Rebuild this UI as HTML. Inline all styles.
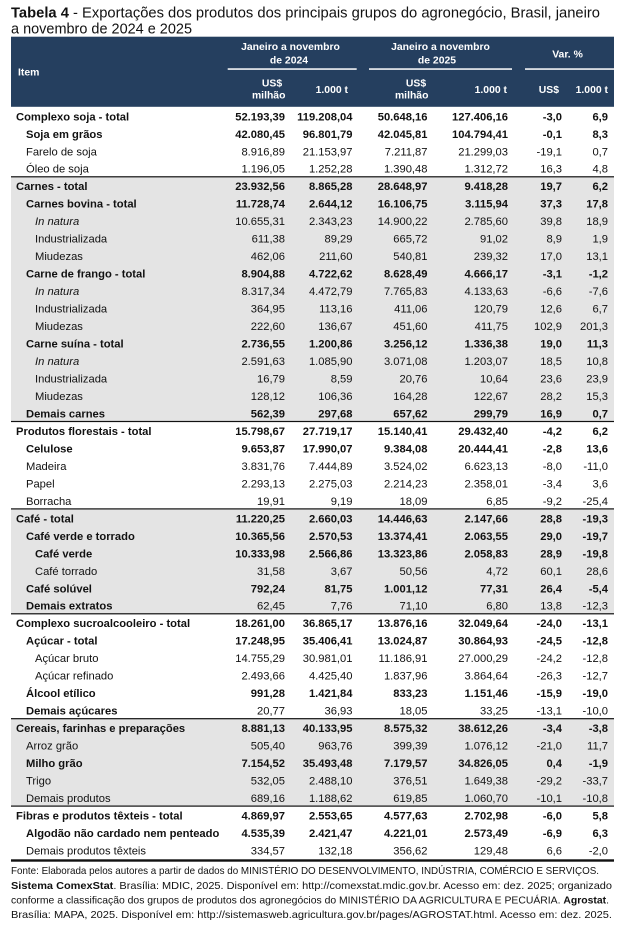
<!DOCTYPE html>
<html lang="pt">
<head>
<meta charset="utf-8">
<title>Tabela 4</title>
<style>
  html,body{margin:0;padding:0;background:#fff;}
  svg{display:block;}
  text{font-family:"Liberation Sans",Arial,sans-serif;fill:#111;}
  .d{font-size:11.2px;}
  .n{text-anchor:end;}
  .b{font-weight:bold;}
  .i{font-style:italic;}
  .h{font-size:10.4px;font-weight:bold;fill:#fff;}
  .hm{text-anchor:middle;}
  .f{font-size:10.4px;}
</style>
</head>
<body>
<svg width="631" height="937" viewBox="0 0 631 937" xmlns="http://www.w3.org/2000/svg">
  <rect x="0" y="0" width="631" height="937" fill="#fff"/>

  <!-- Title -->
  <text x="11" y="17.3" font-size="14.5" textLength="589" lengthAdjust="spacingAndGlyphs"><tspan font-weight="bold">Tabela 4</tspan> - Exportações dos produtos dos principais grupos do agronegócio, Brasil, janeiro</text>
  <text x="11" y="33.3" font-size="14.5" textLength="181" lengthAdjust="spacingAndGlyphs">a novembro de 2024 e 2025</text>

  <!-- Header -->
  <rect x="11" y="36.7" width="603" height="70.1" fill="#253f5f"/>
  <rect x="227.7" y="68.3" width="129" height="1.5" fill="#fff"/>
  <rect x="369" y="68.3" width="143" height="1.5" fill="#fff"/>
  <rect x="525" y="68.3" width="89" height="1.5" fill="#fff"/>
  <text class="h" x="18" y="75.5">Item</text>
  <text class="h hm" x="290.5" y="50">Janeiro a novembro</text>
  <text class="h hm" x="289" y="63.3">de 2024</text>
  <text class="h hm" x="440.5" y="50">Janeiro a novembro</text>
  <text class="h hm" x="437" y="63.3">de 2025</text>
  <text class="h hm" x="567.5" y="57.5">Var. %</text>
  <text class="h hm" x="272" y="86.7">US$</text>
  <text class="h hm" x="268.7" y="98.3">milhão</text>
  <text class="h n" x="348" y="93">1.000 t</text>
  <text class="h hm" x="416" y="86.7">US$</text>
  <text class="h hm" x="411.7" y="98.3">milhão</text>
  <text class="h n" x="507" y="93">1.000 t</text>
  <text class="h n" x="559" y="93">US$</text>
  <text class="h n" x="608" y="93">1.000 t</text>

  <!-- Gray group backgrounds -->
  <rect x="11" y="176.7" width="603" height="244.7" fill="#e4e4e4"/>
  <rect x="11" y="508.8" width="603" height="104.9" fill="#e4e4e4"/>
  <rect x="11" y="718.6" width="603" height="87.4" fill="#e4e4e4"/>

  <!-- Separator lines -->
  <rect x="11" y="176.2" width="603" height="1.2" fill="#111"/>
  <rect x="11" y="420.9" width="603" height="1.2" fill="#111"/>
  <rect x="11" y="508.3" width="603" height="1.2" fill="#111"/>
  <rect x="11" y="613.2" width="603" height="1.2" fill="#111"/>
  <rect x="11" y="718.1" width="603" height="1.2" fill="#111"/>
  <rect x="11" y="805.5" width="603" height="1.2" fill="#111"/>
  <rect x="11" y="859.3" width="603" height="2.4" fill="#111"/>

  <!-- Rows -->
  <g class="d">
    <text class="b" x="16" y="120.3">Complexo soja - total</text>
    <text class="n b" y="120.3"><tspan x="285">52.193,39</tspan><tspan x="352.5">119.208,04</tspan><tspan x="427.5">50.648,16</tspan><tspan x="508">127.406,16</tspan><tspan x="562">-3,0</tspan><tspan x="608">6,9</tspan></text>
    <text class="b" x="26" y="137.8">Soja em grãos</text>
    <text class="n b" y="137.8"><tspan x="285">42.080,45</tspan><tspan x="352.5">96.801,79</tspan><tspan x="427.5">42.045,81</tspan><tspan x="508">104.794,41</tspan><tspan x="562">-0,1</tspan><tspan x="608">8,3</tspan></text>
    <text x="26" y="155.3">Farelo de soja</text>
    <text class="n" y="155.3"><tspan x="285">8.916,89</tspan><tspan x="352.5">21.153,97</tspan><tspan x="427.5">7.211,87</tspan><tspan x="508">21.299,03</tspan><tspan x="562">-19,1</tspan><tspan x="608">0,7</tspan></text>
    <text x="26" y="172.7">Óleo de soja</text>
    <text class="n" y="172.7"><tspan x="285">1.196,05</tspan><tspan x="352.5">1.252,28</tspan><tspan x="427.5">1.390,48</tspan><tspan x="508">1.312,72</tspan><tspan x="562">16,3</tspan><tspan x="608">4,8</tspan></text>
    <text class="b" x="16" y="190.2">Carnes - total</text>
    <text class="n b" y="190.2"><tspan x="285">23.932,56</tspan><tspan x="352.5">8.865,28</tspan><tspan x="427.5">28.648,97</tspan><tspan x="508">9.418,28</tspan><tspan x="562">19,7</tspan><tspan x="608">6,2</tspan></text>
    <text class="b" x="26" y="207.7">Carnes bovina - total</text>
    <text class="n b" y="207.7"><tspan x="285">11.728,74</tspan><tspan x="352.5">2.644,12</tspan><tspan x="427.5">16.106,75</tspan><tspan x="508">3.115,94</tspan><tspan x="562">37,3</tspan><tspan x="608">17,8</tspan></text>
    <text class="i" x="35" y="225.2">In natura</text>
    <text class="n" y="225.2"><tspan x="285">10.655,31</tspan><tspan x="352.5">2.343,23</tspan><tspan x="427.5">14.900,22</tspan><tspan x="508">2.785,60</tspan><tspan x="562">39,8</tspan><tspan x="608">18,9</tspan></text>
    <text x="35" y="242.7">Industrializada</text>
    <text class="n" y="242.7"><tspan x="285">611,38</tspan><tspan x="352.5">89,29</tspan><tspan x="427.5">665,72</tspan><tspan x="508">91,02</tspan><tspan x="562">8,9</tspan><tspan x="608">1,9</tspan></text>
    <text x="35" y="260.1">Miudezas</text>
    <text class="n" y="260.1"><tspan x="285">462,06</tspan><tspan x="352.5">211,60</tspan><tspan x="427.5">540,81</tspan><tspan x="508">239,32</tspan><tspan x="562">17,0</tspan><tspan x="608">13,1</tspan></text>
    <text class="b" x="26" y="277.6">Carne de frango - total</text>
    <text class="n b" y="277.6"><tspan x="285">8.904,88</tspan><tspan x="352.5">4.722,62</tspan><tspan x="427.5">8.628,49</tspan><tspan x="508">4.666,17</tspan><tspan x="562">-3,1</tspan><tspan x="608">-1,2</tspan></text>
    <text class="i" x="35" y="295.1">In natura</text>
    <text class="n" y="295.1"><tspan x="285">8.317,34</tspan><tspan x="352.5">4.472,79</tspan><tspan x="427.5">7.765,83</tspan><tspan x="508">4.133,63</tspan><tspan x="562">-6,6</tspan><tspan x="608">-7,6</tspan></text>
    <text x="35" y="312.6">Industrializada</text>
    <text class="n" y="312.6"><tspan x="285">364,95</tspan><tspan x="352.5">113,16</tspan><tspan x="427.5">411,06</tspan><tspan x="508">120,79</tspan><tspan x="562">12,6</tspan><tspan x="608">6,7</tspan></text>
    <text x="35" y="330.1">Miudezas</text>
    <text class="n" y="330.1"><tspan x="285">222,60</tspan><tspan x="352.5">136,67</tspan><tspan x="427.5">451,60</tspan><tspan x="508">411,75</tspan><tspan x="562">102,9</tspan><tspan x="608">201,3</tspan></text>
    <text class="b" x="26" y="347.5">Carne suína - total</text>
    <text class="n b" y="347.5"><tspan x="285">2.736,55</tspan><tspan x="352.5">1.200,86</tspan><tspan x="427.5">3.256,12</tspan><tspan x="508">1.336,38</tspan><tspan x="562">19,0</tspan><tspan x="608">11,3</tspan></text>
    <text class="i" x="35" y="365.0">In natura</text>
    <text class="n" y="365.0"><tspan x="285">2.591,63</tspan><tspan x="352.5">1.085,90</tspan><tspan x="427.5">3.071,08</tspan><tspan x="508">1.203,07</tspan><tspan x="562">18,5</tspan><tspan x="608">10,8</tspan></text>
    <text x="35" y="382.5">Industrializada</text>
    <text class="n" y="382.5"><tspan x="285">16,79</tspan><tspan x="352.5">8,59</tspan><tspan x="427.5">20,76</tspan><tspan x="508">10,64</tspan><tspan x="562">23,6</tspan><tspan x="608">23,9</tspan></text>
    <text x="35" y="400.0">Miudezas</text>
    <text class="n" y="400.0"><tspan x="285">128,12</tspan><tspan x="352.5">106,36</tspan><tspan x="427.5">164,28</tspan><tspan x="508">122,67</tspan><tspan x="562">28,2</tspan><tspan x="608">15,3</tspan></text>
    <text class="b" x="26" y="417.5">Demais carnes</text>
    <text class="n b" y="417.5"><tspan x="285">562,39</tspan><tspan x="352.5">297,68</tspan><tspan x="427.5">657,62</tspan><tspan x="508">299,79</tspan><tspan x="562">16,9</tspan><tspan x="608">0,7</tspan></text>
    <text class="b" x="16" y="434.9">Produtos florestais - total</text>
    <text class="n b" y="434.9"><tspan x="285">15.798,67</tspan><tspan x="352.5">27.719,17</tspan><tspan x="427.5">15.140,41</tspan><tspan x="508">29.432,40</tspan><tspan x="562">-4,2</tspan><tspan x="608">6,2</tspan></text>
    <text class="b" x="26" y="452.4">Celulose</text>
    <text class="n b" y="452.4"><tspan x="285">9.653,87</tspan><tspan x="352.5">17.990,07</tspan><tspan x="427.5">9.384,08</tspan><tspan x="508">20.444,41</tspan><tspan x="562">-2,8</tspan><tspan x="608">13,6</tspan></text>
    <text x="26" y="469.9">Madeira</text>
    <text class="n" y="469.9"><tspan x="285">3.831,76</tspan><tspan x="352.5">7.444,89</tspan><tspan x="427.5">3.524,02</tspan><tspan x="508">6.623,13</tspan><tspan x="562">-8,0</tspan><tspan x="608">-11,0</tspan></text>
    <text x="26" y="487.4">Papel</text>
    <text class="n" y="487.4"><tspan x="285">2.293,13</tspan><tspan x="352.5">2.275,03</tspan><tspan x="427.5">2.214,23</tspan><tspan x="508">2.358,01</tspan><tspan x="562">-3,4</tspan><tspan x="608">3,6</tspan></text>
    <text x="26" y="504.9">Borracha</text>
    <text class="n" y="504.9"><tspan x="285">19,91</tspan><tspan x="352.5">9,19</tspan><tspan x="427.5">18,09</tspan><tspan x="508">6,85</tspan><tspan x="562">-9,2</tspan><tspan x="608">-25,4</tspan></text>
    <text class="b" x="16" y="522.3">Café - total</text>
    <text class="n b" y="522.3"><tspan x="285">11.220,25</tspan><tspan x="352.5">2.660,03</tspan><tspan x="427.5">14.446,63</tspan><tspan x="508">2.147,66</tspan><tspan x="562">28,8</tspan><tspan x="608">-19,3</tspan></text>
    <text class="b" x="26" y="539.8">Café verde e torrado</text>
    <text class="n b" y="539.8"><tspan x="285">10.365,56</tspan><tspan x="352.5">2.570,53</tspan><tspan x="427.5">13.374,41</tspan><tspan x="508">2.063,55</tspan><tspan x="562">29,0</tspan><tspan x="608">-19,7</tspan></text>
    <text class="b" x="35" y="557.3">Café verde</text>
    <text class="n b" y="557.3"><tspan x="285">10.333,98</tspan><tspan x="352.5">2.566,86</tspan><tspan x="427.5">13.323,86</tspan><tspan x="508">2.058,83</tspan><tspan x="562">28,9</tspan><tspan x="608">-19,8</tspan></text>
    <text x="35" y="574.8">Café torrado</text>
    <text class="n" y="574.8"><tspan x="285">31,58</tspan><tspan x="352.5">3,67</tspan><tspan x="427.5">50,56</tspan><tspan x="508">4,72</tspan><tspan x="562">60,1</tspan><tspan x="608">28,6</tspan></text>
    <text class="b" x="26" y="592.3">Café solúvel</text>
    <text class="n b" y="592.3"><tspan x="285">792,24</tspan><tspan x="352.5">81,75</tspan><tspan x="427.5">1.001,12</tspan><tspan x="508">77,31</tspan><tspan x="562">26,4</tspan><tspan x="608">-5,4</tspan></text>
    <text class="b" x="26" y="609.7">Demais extratos</text>
    <text class="n" y="609.7"><tspan x="285">62,45</tspan><tspan x="352.5">7,76</tspan><tspan x="427.5">71,10</tspan><tspan x="508">6,80</tspan><tspan x="562">13,8</tspan><tspan x="608">-12,3</tspan></text>
    <text class="b" x="16" y="627.2">Complexo sucroalcooleiro - total</text>
    <text class="n b" y="627.2"><tspan x="285">18.261,00</tspan><tspan x="352.5">36.865,17</tspan><tspan x="427.5">13.876,16</tspan><tspan x="508">32.049,64</tspan><tspan x="562">-24,0</tspan><tspan x="608">-13,1</tspan></text>
    <text class="b" x="26" y="644.7">Açúcar - total</text>
    <text class="n b" y="644.7"><tspan x="285">17.248,95</tspan><tspan x="352.5">35.406,41</tspan><tspan x="427.5">13.024,87</tspan><tspan x="508">30.864,93</tspan><tspan x="562">-24,5</tspan><tspan x="608">-12,8</tspan></text>
    <text x="35" y="662.2">Açúcar bruto</text>
    <text class="n" y="662.2"><tspan x="285">14.755,29</tspan><tspan x="352.5">30.981,01</tspan><tspan x="427.5">11.186,91</tspan><tspan x="508">27.000,29</tspan><tspan x="562">-24,2</tspan><tspan x="608">-12,8</tspan></text>
    <text x="35" y="679.7">Açúcar refinado</text>
    <text class="n" y="679.7"><tspan x="285">2.493,66</tspan><tspan x="352.5">4.425,40</tspan><tspan x="427.5">1.837,96</tspan><tspan x="508">3.864,64</tspan><tspan x="562">-26,3</tspan><tspan x="608">-12,7</tspan></text>
    <text class="b" x="26" y="697.1">Álcool etílico</text>
    <text class="n b" y="697.1"><tspan x="285">991,28</tspan><tspan x="352.5">1.421,84</tspan><tspan x="427.5">833,23</tspan><tspan x="508">1.151,46</tspan><tspan x="562">-15,9</tspan><tspan x="608">-19,0</tspan></text>
    <text class="b" x="26" y="714.6">Demais açúcares</text>
    <text class="n" y="714.6"><tspan x="285">20,77</tspan><tspan x="352.5">36,93</tspan><tspan x="427.5">18,05</tspan><tspan x="508">33,25</tspan><tspan x="562">-13,1</tspan><tspan x="608">-10,0</tspan></text>
    <text class="b" x="16" y="732.1">Cereais, farinhas e preparações</text>
    <text class="n b" y="732.1"><tspan x="285">8.881,13</tspan><tspan x="352.5">40.133,95</tspan><tspan x="427.5">8.575,32</tspan><tspan x="508">38.612,26</tspan><tspan x="562">-3,4</tspan><tspan x="608">-3,8</tspan></text>
    <text x="26" y="749.6">Arroz grão</text>
    <text class="n" y="749.6"><tspan x="285">505,40</tspan><tspan x="352.5">963,76</tspan><tspan x="427.5">399,39</tspan><tspan x="508">1.076,12</tspan><tspan x="562">-21,0</tspan><tspan x="608">11,7</tspan></text>
    <text class="b" x="26" y="767.1">Milho grão</text>
    <text class="n b" y="767.1"><tspan x="285">7.154,52</tspan><tspan x="352.5">35.493,48</tspan><tspan x="427.5">7.179,57</tspan><tspan x="508">34.826,05</tspan><tspan x="562">0,4</tspan><tspan x="608">-1,9</tspan></text>
    <text x="26" y="784.5">Trigo</text>
    <text class="n" y="784.5"><tspan x="285">532,05</tspan><tspan x="352.5">2.488,10</tspan><tspan x="427.5">376,51</tspan><tspan x="508">1.649,38</tspan><tspan x="562">-29,2</tspan><tspan x="608">-33,7</tspan></text>
    <text x="26" y="802.0">Demais produtos</text>
    <text class="n" y="802.0"><tspan x="285">689,16</tspan><tspan x="352.5">1.188,62</tspan><tspan x="427.5">619,85</tspan><tspan x="508">1.060,70</tspan><tspan x="562">-10,1</tspan><tspan x="608">-10,8</tspan></text>
    <text class="b" x="16" y="819.5">Fibras e produtos têxteis - total</text>
    <text class="n b" y="819.5"><tspan x="285">4.869,97</tspan><tspan x="352.5">2.553,65</tspan><tspan x="427.5">4.577,63</tspan><tspan x="508">2.702,98</tspan><tspan x="562">-6,0</tspan><tspan x="608">5,8</tspan></text>
    <text class="b" x="26" y="837.0">Algodão não cardado nem penteado</text>
    <text class="n b" y="837.0"><tspan x="285">4.535,39</tspan><tspan x="352.5">2.421,47</tspan><tspan x="427.5">4.221,01</tspan><tspan x="508">2.573,49</tspan><tspan x="562">-6,9</tspan><tspan x="608">6,3</tspan></text>
    <text x="26" y="854.5">Demais produtos têxteis</text>
    <text class="n" y="854.5"><tspan x="285">334,57</tspan><tspan x="352.5">132,18</tspan><tspan x="427.5">356,62</tspan><tspan x="508">129,48</tspan><tspan x="562">6,6</tspan><tspan x="608">-2,0</tspan></text>
  </g>

  <!-- Footer -->
  <text class="f" x="11" y="874" textLength="588" lengthAdjust="spacingAndGlyphs">Fonte: Elaborada pelos autores a partir de dados do MINISTÉRIO DO DESENVOLVIMENTO, INDÚSTRIA, COMÉRCIO E SERVIÇOS.</text>
  <text class="f" x="11" y="889" textLength="601" lengthAdjust="spacingAndGlyphs"><tspan font-weight="bold">Sistema ComexStat</tspan>. Brasília: MDIC, 2025. Disponível em: http://comexstat.mdic.gov.br. Acesso em: dez. 2025; organizado</text>
  <text class="f" x="11" y="903.7" textLength="598" lengthAdjust="spacingAndGlyphs">conforme a classificação dos grupos de produtos dos agronegócios do MINISTÉRIO DA AGRICULTURA E PECUÁRIA. <tspan font-weight="bold">Agrostat</tspan>.</text>
  <text class="f" x="11" y="918" textLength="601" lengthAdjust="spacingAndGlyphs">Brasília: MAPA, 2025. Disponível em: http://sistemasweb.agricultura.gov.br/pages/AGROSTAT.html. Acesso em: dez. 2025.</text>
</svg>
</body>
</html>
